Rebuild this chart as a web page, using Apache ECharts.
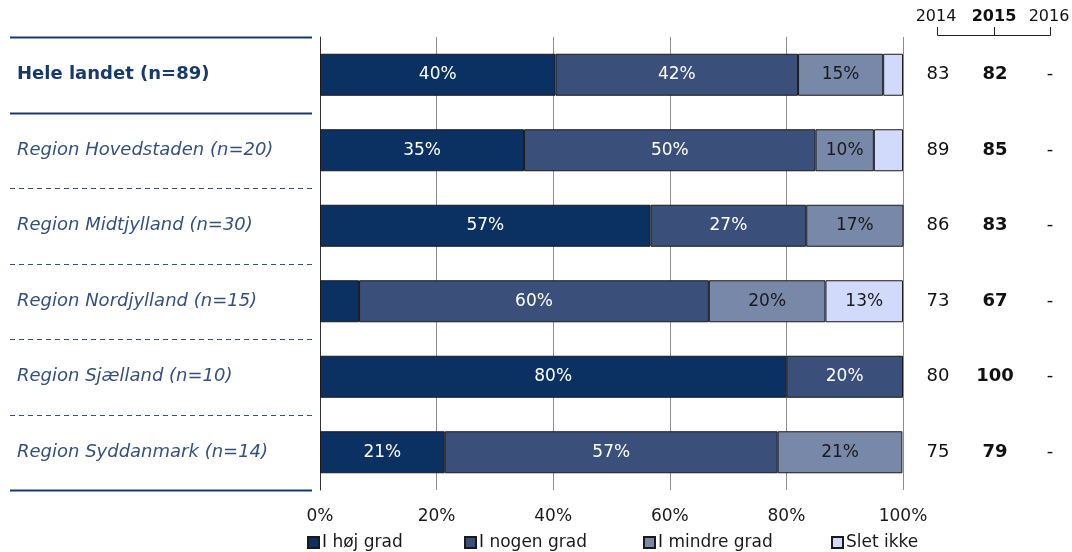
<!DOCTYPE html>
<html>
<head>
<meta charset="utf-8">
<script src="https://cdn.jsdelivr.net/npm/echarts@6/dist/echarts.min.js"></script>
<style>
html,body{margin:0;padding:0;background:#fff;}
#c{width:1072px;height:552px;}
</style>
</head>
<body>
<div id="c"></div>
<script>
const categories = ['Hele landet (n=89)', 'Region Hovedstaden (n=20)', 'Region Midtjylland (n=30)', 'Region Nordjylland (n=15)', 'Region Sjælland (n=10)', 'Region Syddanmark (n=14)'];
const seriesNames = ['I høj grad', 'I nogen grad', 'I mindre grad', 'Slet ikke'];
const hoejGrad = [40.4, 35, 56.7, 6.7, 80, 21.4];
const nogenGrad = [41.6, 50, 26.7, 60, 20, 57.1];
const mindreGrad = [14.6, 10, 16.7, 20, 0, 21.4];
const sletIkke = [3.4, 5, 0, 13.3, 0, 0];
const years = ['2014', '2015', '2016'];
const val2014 = ['83', '89', '86', '73', '80', '75'];
const val2015 = ['82', '85', '83', '67', '100', '79'];
const val2016 = ['-', '-', '-', '-', '-', '-'];
const xTicks = [0, 20, 40, 60, 80, 100];

const FONT = 'DejaVu Sans';
const colors = ['#0b3163', '#3b4f7b', '#7888a8', '#d2dafc'];
const labelColors = ['#ffffff', '#ffffff', '#1a1a1a', '#1a1a1a'];
const allData = [hoejGrad, nogenGrad, mindreGrad, sletIkke];
const legendLefts = [302, 459, 638, 826];

const chart = echarts.init(document.getElementById('c'));

const series = seriesNames.map((name, i) => ({
  name: name,
  type: 'bar',
  stack: 'total',
  barWidth: 42,
  data: allData[i].map(v => v > 0 ? v : null),
  itemStyle: { color: colors[i], borderColor: '#1a1a1a', borderWidth: 1 },
  label: {
    show: true,
    position: 'inside',
    color: labelColors[i],
    fontFamily: FONT,
    fontSize: 17,
    formatter: p => (p.value >= 8 ? Math.round(p.value) + '%' : '')
  },
  emphasis: { disabled: true }
}));

const legends = seriesNames.map((name, i) => ({
  data: [name],
  left: legendLefts[i], top: 529,
  itemWidth: 11, itemHeight: 11,
  icon: 'rect',
  textStyle: { fontFamily: FONT, fontSize: 17, color: '#1a1a1a', padding: [0, 0, 0, -2] }
}));

chart.setOption({
  animation: false,
  textStyle: { fontFamily: FONT },
  grid: { left: 320, right: 169, top: 37, height: 453 },
  xAxis: {
    type: 'value', min: 0, max: 100, interval: 20,
    axisLine: { show: false }, axisTick: { show: false },
    splitLine: { show: true, lineStyle: { color: '#8c8c8c', width: 1 } },
    axisLabel: { formatter: v => (xTicks.indexOf(v) >= 0 ? v + '%' : ''), color: '#1a1a1a', fontSize: 17, fontFamily: FONT, margin: 18 }
  },
  yAxis: [{
    type: 'category', data: categories, inverse: true,
    axisLine: { show: true, lineStyle: { color: '#333', width: 1 } },
    axisTick: { show: false },
    axisLabel: {
      margin: 303, align: 'left', fontFamily: FONT,
      formatter: (v, i) => i === 0 ? '{b|' + v + '}' : '{i|' + v + '}',
      rich: {
        b: { fontWeight: 'bold', fontSize: 18, color: '#173a6e', fontFamily: FONT },
        i: { fontStyle: 'italic', fontSize: 18, color: '#34507f', fontFamily: FONT }
      }
    }
  }, {
    type: 'category', data: categories, inverse: true, position: 'right',
    axisLine: { show: false }, axisTick: { show: false },
    axisLabel: {
      margin: 15, align: 'left', fontFamily: FONT,
      formatter: (v, i) => '{a|' + val2014[i] + '}{b|' + val2015[i] + '}{c|' + val2016[i] + '}',
      rich: {
        a: { width: 40, align: 'center', fontSize: 18, color: '#111', fontFamily: FONT },
        b: { width: 74, align: 'center', fontSize: 18, fontWeight: 'bold', color: '#111', fontFamily: FONT },
        c: { width: 36, align: 'center', fontSize: 18, color: '#111', fontFamily: FONT }
      }
    }
  }],
  legend: legends,
  series: series
});

// decorative separators on the left and year header
const graphics = [];
const band = 453 / categories.length;
for (let i = 0; i <= categories.length; i++) {
  const yc = i < categories.length ? chart.convertToPixel({ yAxisIndex: 0 }, categories[i]) - band / 2
                                   : chart.convertToPixel({ yAxisIndex: 0 }, categories[i - 1]) + band / 2;
  const y = Math.round(yc) + 0.5;
  const solid = (i === 0 || i === 1 || i === categories.length);
  graphics.push({
    type: 'line', shape: { x1: 10, y1: y, x2: 312, y2: y },
    style: { stroke: solid ? '#173a6e' : '#34507f', lineWidth: solid ? 2 : 1, lineDash: solid ? null : [5, 4] }
  });
}
const yearX = [936, 994, 1049];
years.forEach((yr, i) => {
  graphics.push({
    type: 'text', x: yearX[i], y: 17,
    style: { text: yr, fontFamily: FONT, fontSize: 16, fontWeight: i === 1 ? 'bold' : 'normal', fill: '#111', align: 'center', verticalAlign: 'middle' }
  });
});
graphics.push({ type: 'polyline', shape: { points: [[937.5, 27], [937.5, 35.5], [1050.5, 35.5], [1050.5, 27]] }, style: { stroke: '#222', lineWidth: 1, fill: null } });
graphics.push({ type: 'line', shape: { x1: 994.5, y1: 27, x2: 994.5, y2: 35.5 }, style: { stroke: '#222', lineWidth: 1 } });
chart.setOption({ graphic: graphics });
</script>
</body>
</html>
